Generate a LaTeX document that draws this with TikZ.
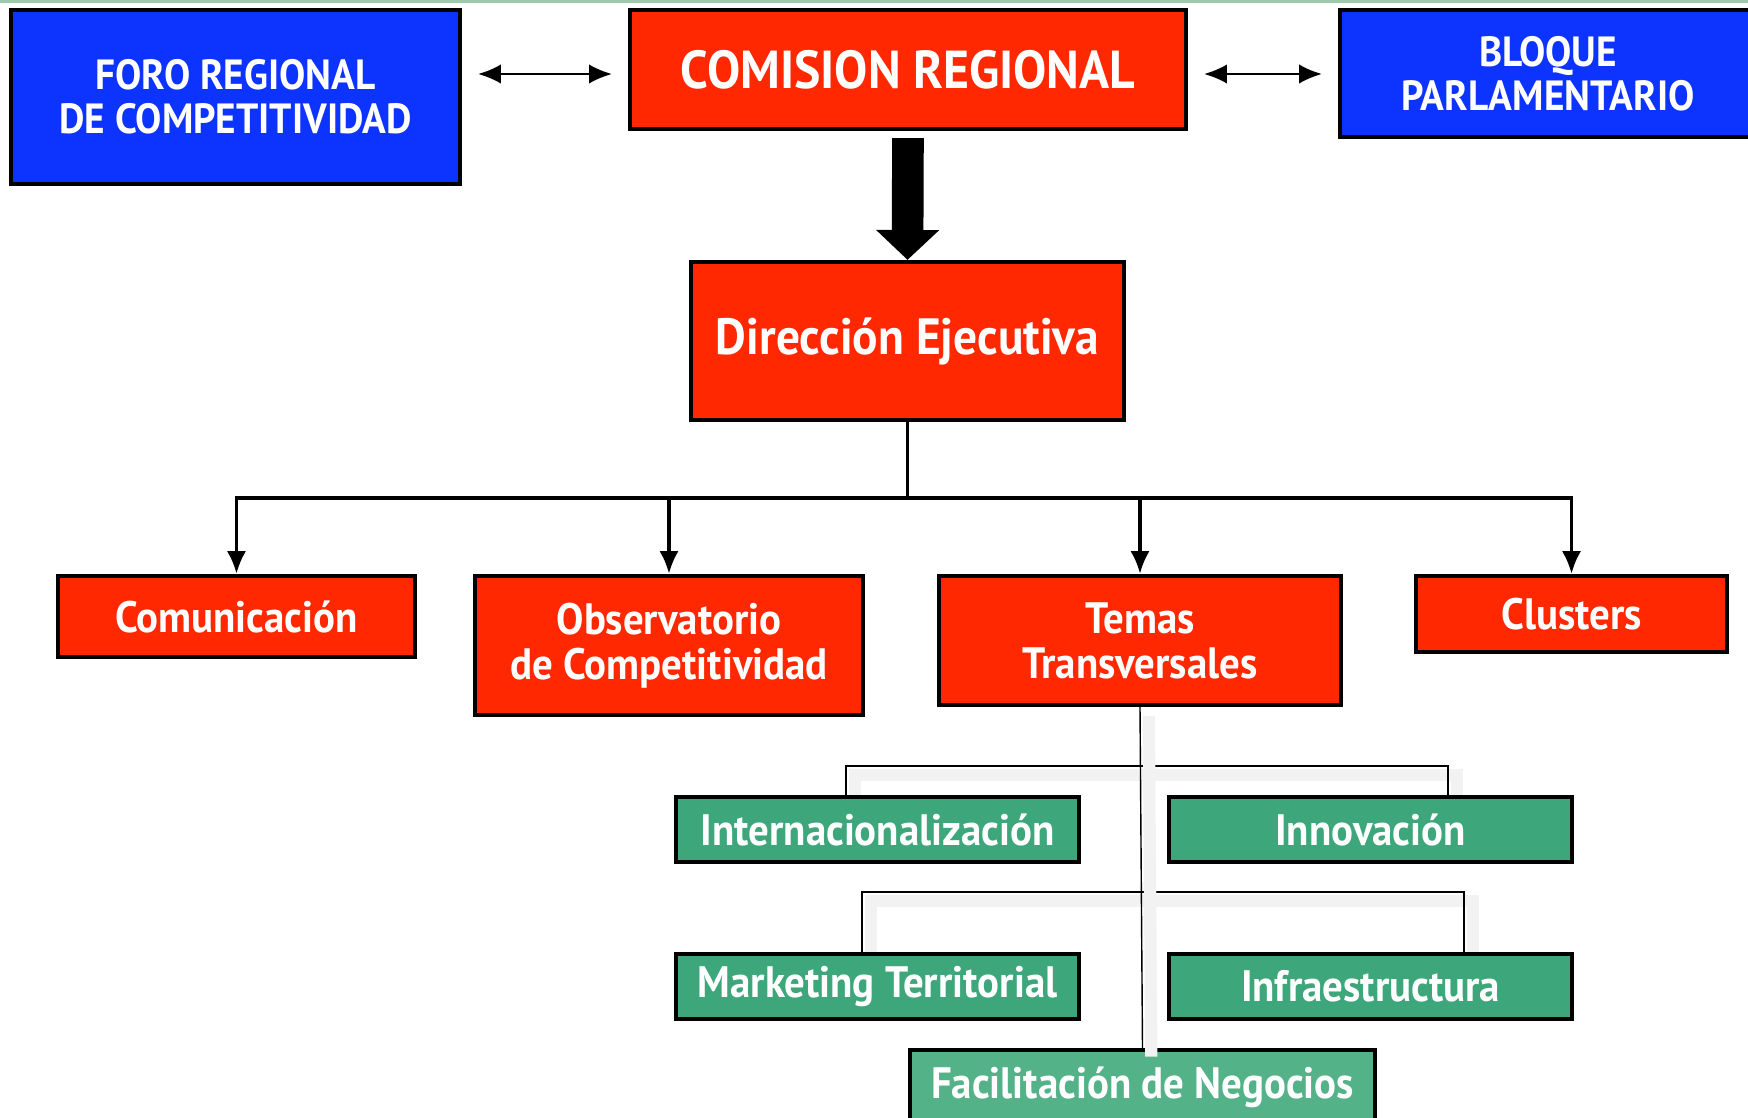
\documentclass[tikz,border=0pt]{standalone}
\usepackage{fontspec}
\setmainfont{PT Sans}[FakeStretch=0.93]
\usetikzlibrary{arrows.meta}

\definecolor{rojo}{RGB}{255,40,0}
\definecolor{azul}{RGB}{13,51,255}
\definecolor{verde}{RGB}{61,166,122}
\definecolor{verdeclaro}{RGB}{84,178,137}
\definecolor{linea}{RGB}{160,200,175}

\tikzset{
	caja/.style = {draw = black, line width = 1.2pt, text = white, font = \bfseries, align = center, inner sep = 0pt},
	roja/.style = {caja, fill = rojo},
	azul/.style = {caja, fill = azul},
	verde/.style = {caja, fill = verde, minimum width = 40.3mm, minimum height = 6.5mm, font = \bfseries\fontsize{12.5}{14}\selectfont},
	sombra/.style = {preaction = {draw = gray!10, line width = 3.5pt, transform canvas = {shift = {(2.5pt, -2.5pt)}}}},
	rama/.style = {thin, sombra}
}

\begin{document}
\begin{tikzpicture}[> = {Latex[length = 6.5pt, width = 5.5pt]}, x = 0.01cm, y = -0.01cm]

	\useasboundingbox (0, 0) rectangle (1748, 1117);
	\draw [linea, line width = 1pt] (0, 1) -- (1748, 1);

	% Top row
	
	\node [azul, minimum width = 44.9mm, minimum height = 17.4mm, font = \bfseries\fontsize{12}{12.6}\selectfont] (foro) at (235.5, 97) {FORO REGIONAL\\DE COMPETITIVIDAD};
	\node [roja, minimum width = 55.6mm, minimum height = 11.9mm, font = \bfseries\fontsize{15.2}{17}\selectfont] (comision) at (908, 69.5) {COMISION REGIONAL};
	\node [azul, minimum width = 41.6mm, minimum height = 12.7mm, font = \bfseries\fontsize{12}{12.6}\selectfont] (bloque) at (1548, 73.5) {BLOQUE\\PARLAMENTARIO};
	
	\draw [<->, semithick, shorten <= 4.5pt, shorten >= 4.5pt] (comision.west |- 0, 74) -- (foro.east |- 0, 74);
	\draw [<->, semithick, shorten <= 4.5pt, shorten >= 4.5pt] (comision.east |- 0, 74) -- (bloque.west |- 0, 74);

	% Direccion
	
	\node [roja, minimum width = 43.3mm, minimum height = 15.8mm, font = \bfseries\fontsize{14.5}{17}\selectfont] (direccion) at (907.5, 341) {Dirección Ejecutiva};
	
	\draw [line width = 9pt, -{Triangle[length = 8.5pt, width = 17.5pt]}, shorten <= 2pt] (comision.south) -- (direccion.north);

	% Areas
	
	\node [roja, minimum width = 35.7mm, minimum height = 8.1mm, font = \bfseries\fontsize{12.5}{14}\selectfont] (comunicacion) at (236.5, 616.5) {Comunicación};
	\node [roja, minimum width = 38.8mm, minimum height = 13.9mm, font = \bfseries\fontsize{12.5}{12.8}\selectfont] (observatorio) at (669, 645.5) {Observatorio\\de Competitividad};
	\node [roja, minimum width = 40.2mm, minimum height = 12.9mm, font = \bfseries\fontsize{12.5}{12.8}\selectfont] (temas) at (1140, 640.5) {Temas\\Transversales};
	\node [roja, minimum width = 31.1mm, minimum height = 7.6mm, font = \bfseries\fontsize{12.5}{14}\selectfont] (clusters) at (1571.5, 614) {Clusters};
	
	\coordinate (bus) at (direccion.south |- 0, 498);
	\draw [line width = 1pt] (direccion.south) -- (bus);
	\foreach \n in {comunicacion, observatorio, temas, clusters}
		\draw [->, line width = 1pt] (bus) -| (\n.north);

	% Temas transversales
	
	\coordinate (r1) at (846, 766);
	\coordinate (r2) at (1448, 766);
	\coordinate (r3) at (862, 892);
	\coordinate (r4) at (1464, 892);
	
	\draw [rama] (r1 |- 0, 797) -- (r1) -- (r2) -- (r2 |- 0, 797);
	\draw [rama] (r3 |- 0, 954) -- (r3) -- (r4) -- (r4 |- 0, 954);
	
	\node [verde] (intern) at (877.5, 829.5) {Internacionalización};
	\node [verde] (innov) at (1370.5, 829.5) {Innovación};
	\node [verde] (marketing) at (877.5, 986.5) {Marketing Territorial};
	\node [verde] (infra) at (1370.5, 986.5) {Infraestructura};
	\node [verde, fill = verdeclaro, minimum width = 46.5mm, minimum height = 7.4mm] (facil) at (1142.5, 1087) {Facilitación de Negocios};
	
	\draw [rama] (temas.south) -- (facil.north);

\end{tikzpicture}
\end{document}
